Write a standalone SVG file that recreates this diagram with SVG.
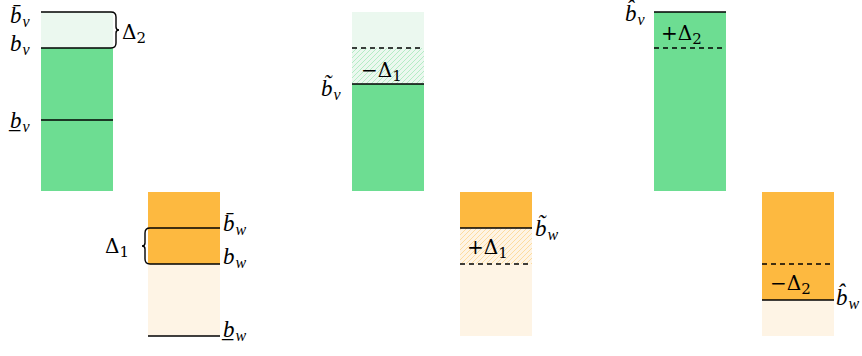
<svg xmlns="http://www.w3.org/2000/svg" width="862" height="356" viewBox="0 0 862 356">
<style>
.g{fill:#6DDD92}
.lg{fill:#EBF8EF}
.o{fill:#FDB940}
.lo{fill:#FEF4E5}
.ln{stroke:#000;stroke-width:1.4;fill:none}
.ds{stroke:#000;stroke-width:1.4;fill:none;stroke-dasharray:5 4}
text{fill:#000}
.b{font-family:'Liberation Serif',serif;font-style:italic;font-size:23px}
.d{font-family:'DejaVu Serif',serif;font-size:20px}
.sb{font-size:16px}
.sd{font-size:15px}
</style>
<defs>
<pattern id="hg" patternUnits="userSpaceOnUse" width="5" height="5">
<rect width="5" height="5" fill="#EBF8EF"/>
<path d="M-1 6L6 -1M-1 1L1 -1M4 6L6 4" stroke="#A6E8BA" stroke-width="0.8"/>
</pattern>
<pattern id="ho" patternUnits="userSpaceOnUse" width="5" height="5">
<rect width="5" height="5" fill="#FEF4E5"/>
<path d="M-1 6L6 -1M-1 1L1 -1M4 6L6 4" stroke="#FDD58E" stroke-width="0.8"/>
</pattern>
</defs>

<g id="v-original">
<rect class="lg" x="41" y="12" width="72" height="36"/>
<rect class="g" x="41" y="48" width="72" height="143"/>
<path class="ln" d="M41 120H113"/>
<text class="b" x="10" y="23">b̄<tspan class="sb" dx="1" dy="4">v</tspan></text>
<text class="b" x="10" y="51">b<tspan class="sb" dx="1" dy="4">v</tspan></text>
<text class="b" x="10" y="128">b̲<tspan class="sb" dx="1" dy="4">v</tspan></text>
<text class="d" x="122" y="39">Δ<tspan class="sd" dy="4">2</tspan></text>
</g>

<g id="w-original">
<rect class="o" x="148" y="192" width="72" height="72"/>
<rect class="lo" x="148" y="264" width="72" height="72"/>
<path class="ln" d="M148 336H220"/>
<text class="b" x="223" y="231">b̄<tspan class="sb" dx="1" dy="4">w</tspan></text>
<text class="b" x="223" y="264">b<tspan class="sb" dx="1" dy="4">w</tspan></text>
<text class="b" x="223" y="337">b̲<tspan class="sb" dx="1" dy="4">w</tspan></text>
<text class="d" x="105" y="253">Δ<tspan class="sd" dy="4">1</tspan></text>
</g>

<g id="v-tilde">
<rect class="lg" x="352" y="12" width="72" height="36"/>
<rect fill="url(#hg)" x="352" y="48" width="72" height="36"/>
<rect class="g" x="352" y="84" width="72" height="107"/>
<path class="ds" d="M352 48H424"/>
<path class="ln" d="M352 84H424"/>
<text class="d" x="361" y="77">−Δ<tspan class="sd" dy="4">1</tspan></text>
<text class="b" x="321" y="96">b̃<tspan class="sb" dx="1" dy="4">v</tspan></text>
</g>

<g id="w-tilde">
<rect class="o" x="460" y="192" width="72" height="36"/>
<rect fill="url(#ho)" x="460" y="228" width="72" height="36"/>
<rect class="lo" x="460" y="264" width="72" height="72"/>
<path class="ln" d="M460 228H532"/>
<path class="ds" d="M460 264H532"/>
<text class="d" x="467" y="254">+Δ<tspan class="sd" dy="4">1</tspan></text>
<text class="b" x="535" y="236">b̃<tspan class="sb" dx="1" dy="4">w</tspan></text>
</g>

<g id="v-hat">
<rect class="g" x="654" y="12" width="72" height="179"/>
<path class="ln" d="M654 12H726"/>
<path class="ds" d="M654 48H726"/>
<text class="d" x="661" y="40">+Δ<tspan class="sd" dy="4">2</tspan></text>
<text class="b" x="625" y="21">b̂<tspan class="sb" dx="1" dy="4">v</tspan></text>
</g>

<g id="w-hat">
<rect class="o" x="762" y="192" width="72" height="108"/>
<rect class="lo" x="762" y="300" width="72" height="36"/>
<path class="ds" d="M762 264H834"/>
<path class="ln" d="M762 300H834"/>
<text class="d" x="770" y="290">−Δ<tspan class="sd" dy="4">2</tspan></text>
<text class="b" x="836" y="305">b̂<tspan class="sb" dx="1" dy="4">w</tspan></text>
</g>

<g id="connectors">
<path class="ln" d="M41 12H111Q116 12 116 17V27Q116 30 119 30Q116 30 116 33V43Q116 48 111 48H41"/>
<path class="ln" d="M220 228H150Q145 228 145 233V243Q145 246 142 246Q145 246 145 249V259Q145 264 150 264H220"/>
</g>
</svg>
